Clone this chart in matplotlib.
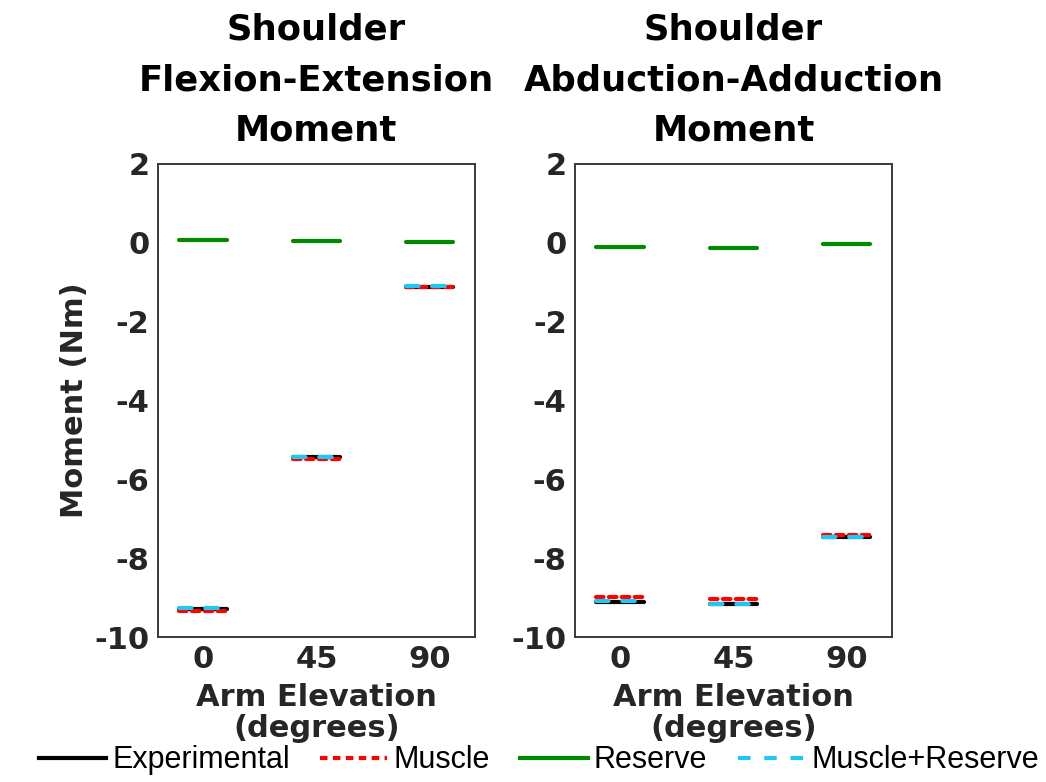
import matplotlib
matplotlib.use('Agg')
import matplotlib.pyplot as plt
from matplotlib.lines import Line2D

# Arm elevation categories and moment values (Nm)
elevations = ['0', '45', '90']
flex_experimental = [-9.28, -5.44, -1.11]
flex_muscle = [-9.33, -5.48, -1.11]
flex_reserve = [0.06, 0.04, 0.02]
flex_muscle_reserve = [-9.27, -5.43, -1.10]

abd_experimental = [-9.10, -9.16, -7.47]
abd_muscle = [-8.99, -9.03, -7.42]
abd_reserve = [-0.10, -0.14, -0.04]
abd_muscle_reserve = [-9.09, -9.15, -7.46]

titles = ['Shoulder\nFlexion-Extension\nMoment', 'Shoulder\nAbduction-Adduction\nMoment']
y_ticks = [2, 0, -2, -4, -6, -8, -10]

plt.rcParams.update({
    'font.family': 'DejaVu Sans',
    'font.weight': 'bold',
    'axes.edgecolor': '#3a3a3a',
    'axes.linewidth': 1.4,
})

SERIES = [
    ('Experimental', 'black', '-'),
    ('Muscle', '#ff0000', (0, (1.8, 1.3))),
    ('Reserve', '#008a00', '-'),
    ('Muscle+Reserve', '#1ec8f5', (0, (3.0, 3.3))),
]
HALF = 0.21


def draw_panel(ax, series_vals, title):
    for (name, color, ls), vals in zip(SERIES, series_vals):
        for i, v in enumerate(vals):
            x = i + 1
            ax.plot([x - HALF, x + HALF], [v, v], color=color, linestyle=ls,
                    lw=3, solid_capstyle='round', dash_capstyle='round')
    ax.set_xlim(0.6, 3.4)
    ax.set_ylim(-10, 2)
    ax.set_xticks([1, 2, 3])
    ax.set_xticklabels(elevations)
    ax.set_yticks(y_ticks)
    ax.set_yticklabels([str(t) for t in y_ticks])
    ax.tick_params(length=0, labelsize=22, colors='#262626', pad=6)
    for lab in ax.get_xticklabels() + ax.get_yticklabels():
        lab.set_fontweight('bold')
    ax.set_title(title, fontsize=25.5, fontweight='bold', pad=17, linespacing=1.6)
    ax.set_xlabel('Arm Elevation\n(degrees)', fontsize=22, fontweight='bold',
                  color='#262626', linespacing=1.1, labelpad=6)


fig = plt.figure(figsize=(10.46, 7.82), dpi=100)
ax1 = fig.add_axes([0.151, 0.1854, 0.303, 0.605])
ax2 = fig.add_axes([0.5497, 0.1854, 0.303, 0.605])

draw_panel(ax1, [flex_experimental, flex_muscle, flex_reserve, flex_muscle_reserve], titles[0])
draw_panel(ax2, [abd_experimental, abd_muscle, abd_reserve, abd_muscle_reserve], titles[1])
ax1.set_ylabel('Moment (Nm)', fontsize=22, fontweight='bold', color='#262626', labelpad=4)

handles = [Line2D([], [], color=c, linestyle=ls, lw=3) for _, c, ls in SERIES]
labels = [name for name, _, _ in SERIES]
leg = fig.legend(handles, labels, loc='lower center', bbox_to_anchor=(0.515, -0.011),
                 ncol=4, frameon=False, handlelength=2.2, handletextpad=0.2,
                 columnspacing=1.0, borderpad=0.0,
                 prop={'family': 'Liberation Sans', 'weight': 'normal', 'size': 22})

fig.savefig('out.png', dpi=100)
